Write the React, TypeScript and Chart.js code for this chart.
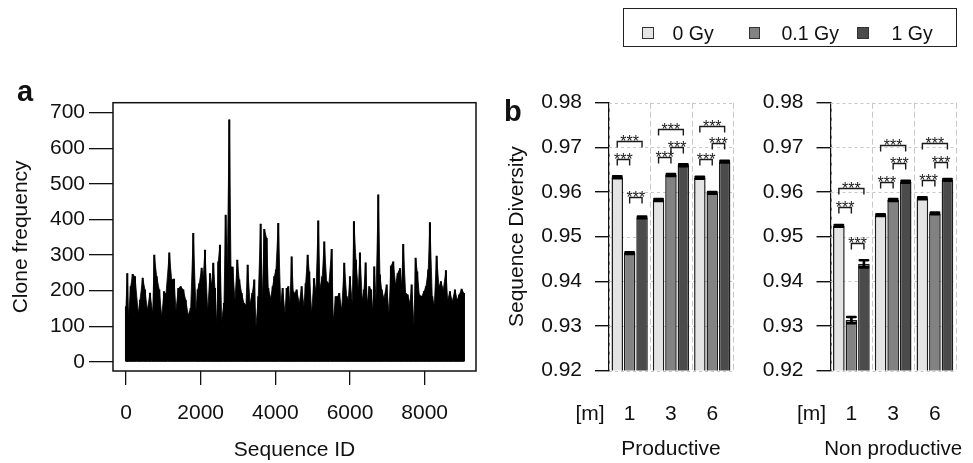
import React, { useEffect, useRef } from 'react';
import { Chart, registerables } from 'chart.js';

Chart.register(...registerables);

const FONT = '"Liberation Sans", Arial, Helvetica, sans-serif';
const INK = '#111111';

// ---------- panel a : clone frequency per sequence ----------
const seqIds = [
  0, 35, 67, 126, 179, 241, 329, 375, 447, 509,
  571, 643, 715, 758, 822, 892, 956, 1018, 1071, 1160,
  1224, 1286, 1339, 1401, 1465, 1535, 1599, 1668, 1733, 1802,
  1875, 1920, 1963, 2027, 2070, 2116, 2188, 2250, 2295, 2338,
  2383, 2429, 2472, 2517, 2563, 2624, 2670, 2713, 2767, 2812,
  2857, 2919, 2981, 3034, 3098, 3160, 3214, 3259, 3321, 3382,
  3436, 3481, 3543, 3607, 3650, 3704, 3768, 3811, 3875, 3929,
  3972, 4017, 4079, 4143, 4196, 4258, 4304, 4347, 4392, 4437,
  4480, 4526, 4571, 4641, 4705, 4767, 4812, 4866, 4909, 4973,
  5035, 5088, 5150, 5195, 5257, 5311, 5375, 5436, 5509, 5552,
  5616, 5669, 5712, 5777, 5846, 5911, 5953, 5999, 6060, 6106,
  6159, 6221, 6267, 6328, 6374, 6419, 6462, 6516, 6561, 6607,
  6650, 6695, 6757, 6802, 6848, 6909, 6982, 7043, 7097, 7158,
  7222, 7276, 7338, 7383, 7426, 7490, 7544, 7606, 7651, 7713,
  7758, 7801, 7855, 7919, 7981, 8034, 8096, 8141, 8203, 8257,
  8321, 8382, 8436, 8498, 8570, 8615, 8677, 8739, 8811, 8872,
  8926, 8990, 9052,
];
const cloneFreq = [
  155, 248, 127, 211, 246, 239, 137, 173, 235, 202,
  145, 193, 137, 300, 239, 202, 127, 197, 190, 306,
  230, 232, 145, 206, 211, 202, 173, 131, 150, 361,
  145, 202, 220, 263, 239, 314, 141, 248, 216, 277,
  206, 108, 281, 328, 117, 164, 412, 267, 680, 266,
  266, 173, 286, 230, 192, 164, 159, 272, 164, 192,
  230, 98, 183, 387, 173, 372, 347, 206, 178, 211,
  239, 258, 389, 164, 206, 136, 206, 211, 164, 295,
  197, 192, 202, 164, 211, 155, 220, 300, 253, 136,
  234, 197, 396, 206, 239, 337, 225, 220, 316, 117,
  183, 183, 192, 145, 277, 183, 173, 239, 164, 394,
  286, 202, 306, 173, 202, 278, 164, 211, 202, 145,
  267, 173, 469, 244, 202, 178, 216, 136, 269, 281,
  216, 248, 262, 216, 330, 192, 188, 164, 216, 103,
  291, 253, 188, 183, 197, 211, 258, 391, 183, 159,
  297, 211, 225, 202, 256, 173, 197, 169, 202, 173,
  188, 204, 192,
];
const seqTicks = [0, 2000, 4000, 6000, 8000];
const freqTicks = [0, 100, 200, 300, 400, 500, 600, 700];

// ---------- panel b : sequence diversity ----------
const months = ['1', '3', '6'];
const doses = ['0 Gy', '0.1 Gy', '1 Gy'];
const doseColors = ['#e4e4e4', '#828282', '#4b4b4b'];
const diversityTicks = [0.92, 0.93, 0.94, 0.95, 0.96, 0.97, 0.98];

const prod0Gy = [0.9633, 0.9582, 0.9632];
const prod01Gy = [0.9463, 0.9638, 0.9598];
const prod1Gy = [0.9543, 0.966, 0.9668];
const prodErr0Gy = [0.0002, 0.0002, 0.0002];
const prodErr01Gy = [0.0002, 0.0002, 0.0002];
const prodErr1Gy = [0.0002, 0.0002, 0.0002];
const prodSig0vs01 = [0.9674, 0.9678, 0.9674];
const prodSig0vs1 = [0.9715, 0.9741, 0.9748];
const prodSig01vs1 = [0.9588, 0.9701, 0.9709];

const nonProd0Gy = [0.9524, 0.9548, 0.9586];
const nonProd01Gy = [0.9313, 0.9582, 0.9552];
const nonProd1Gy = [0.9439, 0.9623, 0.9627];
const nonProdErr0Gy = [0.0002, 0.0002, 0.0002];
const nonProdErr01Gy = [0.0007, 0.0002, 0.0002];
const nonProdErr1Gy = [0.0008, 0.0002, 0.0002];
const nonProdSig0vs01 = [0.9567, 0.9623, 0.9627];
const nonProdSig0vs1 = [0.9608, 0.9705, 0.9709];
const nonProdSig01vs1 = [0.9486, 0.9666, 0.9668];

const sigPairs = [[0, 1], [0, 2], [1, 2]];

// ---------- plugins ----------
const boxPlugin = {
  id: 'plotBox',
  afterDraw(chart: any) {
    const { ctx, chartArea: a } = chart;
    ctx.save();
    ctx.strokeStyle = INK;
    ctx.lineWidth = 1.5;
    ctx.strokeRect(a.left, a.top, a.right - a.left, a.bottom - a.top);
    ctx.restore();
  },
};

function letterPlugin(letter: string, x: number, y: number) {
  return {
    id: 'letter_' + letter,
    afterDraw(chart: any) {
      const ctx = chart.ctx;
      ctx.save();
      ctx.font = `bold 29px ${FONT}`;
      ctx.fillStyle = INK;
      ctx.textAlign = 'left';
      ctx.textBaseline = 'alphabetic';
      ctx.fillText(letter, x, y);
      ctx.restore();
    },
  };
}

function bottomTitlePlugin(text: string, size: number) {
  return {
    id: 'bottomTitle',
    afterDraw(chart: any) {
      const { ctx, chartArea: a } = chart;
      ctx.save();
      ctx.font = `${size}px ${FONT}`;
      ctx.fillStyle = INK;
      ctx.textAlign = 'center';
      ctx.textBaseline = 'middle';
      ctx.fillText(text, (a.left + a.right) / 2, a.bottom + 79);
      ctx.restore();
    },
  };
}

const unitPlugin = {
  id: 'monthUnit',
  afterDraw(chart: any) {
    const { ctx, chartArea: a } = chart;
    ctx.save();
    ctx.font = `21px ${FONT}`;
    ctx.fillStyle = INK;
    ctx.textAlign = 'center';
    ctx.textBaseline = 'middle';
    ctx.fillText('[m]', a.left - 19, a.bottom + 31 + 12.6);
    ctx.restore();
  },
};

const divGridPlugin = {
  id: 'divGrid',
  beforeDatasetsDraw(chart: any) {
    const { ctx, chartArea: a, scales } = chart;
    const x = scales.x;
    const y = scales.y;
    ctx.save();
    ctx.strokeStyle = '#c8c8c8';
    ctx.lineWidth = 1;
    ctx.setLineDash([3, 3]);
    diversityTicks.forEach((v) => {
      const py = Math.round(y.getPixelForValue(v)) + 0.5;
      ctx.beginPath();
      ctx.moveTo(a.left, py);
      ctx.lineTo(a.right, py);
      ctx.stroke();
    });
    ctx.setLineDash([6, 3]);
    for (let i = 0; i <= months.length; i++) {
      const px = Math.round(x.getPixelForValue(i - 0.5)) + 0.5;
      ctx.beginPath();
      ctx.moveTo(px, a.top);
      ctx.lineTo(px, a.bottom);
      ctx.stroke();
    }
    ctx.restore();
  },
};

function errorPlugin(errors: number[][]) {
  return {
    id: 'errorBars',
    afterDatasetsDraw(chart: any) {
      const { ctx, scales } = chart;
      const y = scales.y;
      ctx.save();
      ctx.strokeStyle = '#000';
      ctx.lineWidth = 2.6;
      ctx.lineCap = 'round';
      chart.data.datasets.forEach((ds: any, k: number) => {
        const meta = chart.getDatasetMeta(k);
        meta.data.forEach((el: any, j: number) => {
          const v = ds.data[j];
          const e = errors[k][j];
          const yt = y.getPixelForValue(v + e);
          const yb = y.getPixelForValue(v - e);
          const half = 4.2;
          ctx.beginPath();
          ctx.moveTo(el.x, yt);
          ctx.lineTo(el.x, yb);
          ctx.moveTo(el.x - half, yt);
          ctx.lineTo(el.x + half, yt);
          ctx.moveTo(el.x - half, yb);
          ctx.lineTo(el.x + half, yb);
          ctx.stroke();
        });
      });
      ctx.restore();
    },
  };
}

function bracketPlugin(sig: number[][]) {
  return {
    id: 'sigBrackets',
    afterDatasetsDraw(chart: any) {
      const { ctx, scales } = chart;
      const y = scales.y;
      ctx.save();
      ctx.strokeStyle = '#1a1a1a';
      ctx.fillStyle = '#1a1a1a';
      ctx.lineWidth = 1.4;
      ctx.font = `16px ${FONT}`;
      ctx.textAlign = 'center';
      ctx.textBaseline = 'alphabetic';
      sigPairs.forEach(([p, q], s) => {
        const ma = chart.getDatasetMeta(p);
        const mb = chart.getDatasetMeta(q);
        sig[s].forEach((h, j) => {
          const xa = ma.data[j].x;
          const xb = mb.data[j].x;
          const py = Math.round(y.getPixelForValue(h)) + 0.5;
          ctx.beginPath();
          ctx.moveTo(xa, py + 6);
          ctx.lineTo(xa, py);
          ctx.lineTo(xb, py);
          ctx.lineTo(xb, py + 6);
          ctx.stroke();
          ctx.fillText('***', (xa + xb) / 2, py + 5);
        });
      });
      ctx.restore();
    },
  };
}

// ---------- configs ----------
function cloneConfig(): any {
  const points = seqIds.map((id, i) => ({ x: id, y: cloneFreq[i] }));
  return {
    type: 'bar',
    data: {
      datasets: [
        {
          type: 'line',
          data: points,
          borderColor: '#000000',
          backgroundColor: '#000000',
          borderWidth: 0.8,
          pointRadius: 0,
          tension: 0,
          fill: 'origin',
          order: 2,
        },
        {
          type: 'bar',
          data: points,
          backgroundColor: '#000000',
          borderWidth: 0,
          barThickness: 1.4,
          order: 1,
        },
      ],
    },
    options: {
      animation: false,
      responsive: false,
      maintainAspectRatio: false,
      layout: { padding: { left: 0, top: 102.7, right: 24, bottom: 0 } },
      plugins: { legend: { display: false }, tooltip: { enabled: false } },
      scales: {
        x: {
          type: 'linear',
          min: -348,
          max: 9375,
          offset: false,
          afterBuildTicks: (s: any) => {
            s.ticks = seqTicks.map((v) => ({ value: v }));
          },
          afterFit: (s: any) => {
            s.height = 92;
          },
          grid: { drawOnChartArea: false, offset: false, tickLength: 14, color: INK, lineWidth: 1.3 },
          border: { display: false },
          ticks: {
            font: { size: 21, family: FONT },
            color: INK,
            padding: 16,
            maxRotation: 0,
            autoSkip: false,
            callback: (v: any) => String(v),
          },
          title: {
            display: true,
            text: 'Sequence ID',
            font: { size: 21, family: FONT },
            color: INK,
            padding: { top: 0, bottom: 0 },
          },
        },
        y: {
          type: 'linear',
          min: -26,
          max: 728,
          afterBuildTicks: (s: any) => {
            s.ticks = freqTicks.map((v) => ({ value: v }));
          },
          afterFit: (s: any) => {
            s.width = 113;
          },
          grid: { drawOnChartArea: false, tickLength: 24, color: INK, lineWidth: 1.3 },
          border: { display: false },
          ticks: {
            font: { size: 21, family: FONT },
            color: INK,
            padding: 4,
            callback: (v: any) => String(v),
          },
          title: {
            display: true,
            text: 'Clone frequency',
            font: { size: 21, family: FONT },
            color: INK,
            padding: { top: 9, bottom: 0 },
          },
        },
      },
    },
    plugins: [boxPlugin, letterPlugin('a', 17, 100.5)],
  };
}

function diversityConfig(
  series: number[][],
  errors: number[][],
  sig: number[][],
  xTitle: string,
  xTitleSize: number,
  yTitle: string | null,
  axisWidth: number,
  padRight: number,
  extra: any[]
): any {
  return {
    type: 'bar',
    data: {
      labels: months,
      datasets: doses.map((d, k) => ({
        label: d,
        data: series[k],
        backgroundColor: doseColors[k],
        borderColor: '#1c1c1c',
        borderWidth: 1.5,
        categoryPercentage: 0.9,
        barPercentage: 0.93,
      })),
    },
    options: {
      animation: false,
      responsive: false,
      maintainAspectRatio: false,
      layout: { padding: { left: 0, top: 102.7, right: padRight, bottom: 0 } },
      plugins: { legend: { display: false }, tooltip: { enabled: false } },
      scales: {
        x: {
          type: 'category',
          offset: true,
          afterFit: (s: any) => {
            s.height = 92.5;
          },
          grid: { display: false, drawTicks: false, drawOnChartArea: false },
          border: { display: false },
          ticks: { font: { size: 21, family: FONT }, color: INK, padding: 31, maxRotation: 0 },
          title: { display: false },
        },
        y: {
          type: 'linear',
          min: 0.92,
          max: 0.98,
          afterBuildTicks: (s: any) => {
            s.ticks = diversityTicks.map((v) => ({ value: v }));
          },
          afterFit: (s: any) => {
            s.width = axisWidth;
          },
          grid: { drawOnChartArea: false, tickLength: 14, color: INK, lineWidth: 1.4 },
          border: { display: true, color: INK, width: 1.6 },
          ticks: {
            font: { size: 21, family: FONT },
            color: INK,
            padding: 13,
            callback: (v: any) => Number(v).toFixed(2),
          },
          title: {
            display: !!yTitle,
            text: yTitle || '',
            font: { size: 21, family: FONT },
            color: INK,
            padding: { top: 5, bottom: 0 },
          },
        },
      },
    },
    plugins: [
      divGridPlugin,
      errorPlugin(errors),
      bracketPlugin(sig),
      unitPlugin,
      bottomTitlePlugin(xTitle, xTitleSize),
      ...extra,
    ],
  };
}

// ---------- legend ----------
function Legend() {
  const items = [
    { sq: 642, tx: 672.5 },
    { sq: 748.5, tx: 781.5 },
    { sq: 857, tx: 891.5 },
  ];
  return (
    <>
      <div
        style={{
          position: 'absolute',
          left: 623,
          top: 8,
          width: 334,
          height: 39,
          border: '1.5px solid #222',
          boxSizing: 'border-box',
        }}
      />
      {doses.map((d, k) => (
        <React.Fragment key={d}>
          <div
            style={{
              position: 'absolute',
              left: items[k].sq,
              top: 27,
              width: 11.5,
              height: 11.5,
              boxSizing: 'border-box',
              border: '1px solid #333',
              background: doseColors[k],
            }}
          />
          <div
            style={{
              position: 'absolute',
              left: items[k].tx,
              top: 23.2,
              fontSize: 19.5,
              lineHeight: '20px',
              fontFamily: FONT,
              color: INK,
              whiteSpace: 'nowrap',
            }}
          >
            {d}
          </div>
        </React.Fragment>
      ))}
    </>
  );
}

export default function App() {
  const aRef = useRef<HTMLCanvasElement>(null);
  const pRef = useRef<HTMLCanvasElement>(null);
  const nRef = useRef<HTMLCanvasElement>(null);

  useEffect(() => {
    const charts = [
      new Chart(aRef.current as HTMLCanvasElement, cloneConfig()),
      new Chart(
        pRef.current as HTMLCanvasElement,
        diversityConfig(
          [prod0Gy, prod01Gy, prod1Gy],
          [prodErr0Gy, prodErr01Gy, prodErr1Gy],
          [prodSig0vs01, prodSig0vs1, prodSig01vs1],
          'Productive',
          21,
          'Sequence Diversity',
          109,
          5.5,
          [letterPlugin('b', 4, 121)]
        )
      ),
      new Chart(
        nRef.current as HTMLCanvasElement,
        diversityConfig(
          [nonProd0Gy, nonProd01Gy, nonProd1Gy],
          [nonProdErr0Gy, nonProdErr01Gy, nonProdErr1Gy],
          [nonProdSig0vs01, nonProdSig0vs1, nonProdSig01vs1],
          'Non productive',
          20.5,
          null,
          80.5,
          7.5,
          []
        )
      ),
    ];
    return () => charts.forEach((c) => c.destroy());
  }, []);

  return (
    <div
      style={{
        position: 'fixed',
        left: 0,
        top: 0,
        width: 973,
        height: 463,
        background: '#ffffff',
        overflow: 'hidden',
      }}
    >
      <canvas ref={aRef} width={500} height={463} style={{ position: 'absolute', left: 0, top: 0 }} />
      <canvas ref={pRef} width={250} height={463} style={{ position: 'absolute', left: 500, top: 0 }} />
      <canvas ref={nRef} width={223} height={463} style={{ position: 'absolute', left: 750, top: 0 }} />
      <Legend />
    </div>
  );
}
